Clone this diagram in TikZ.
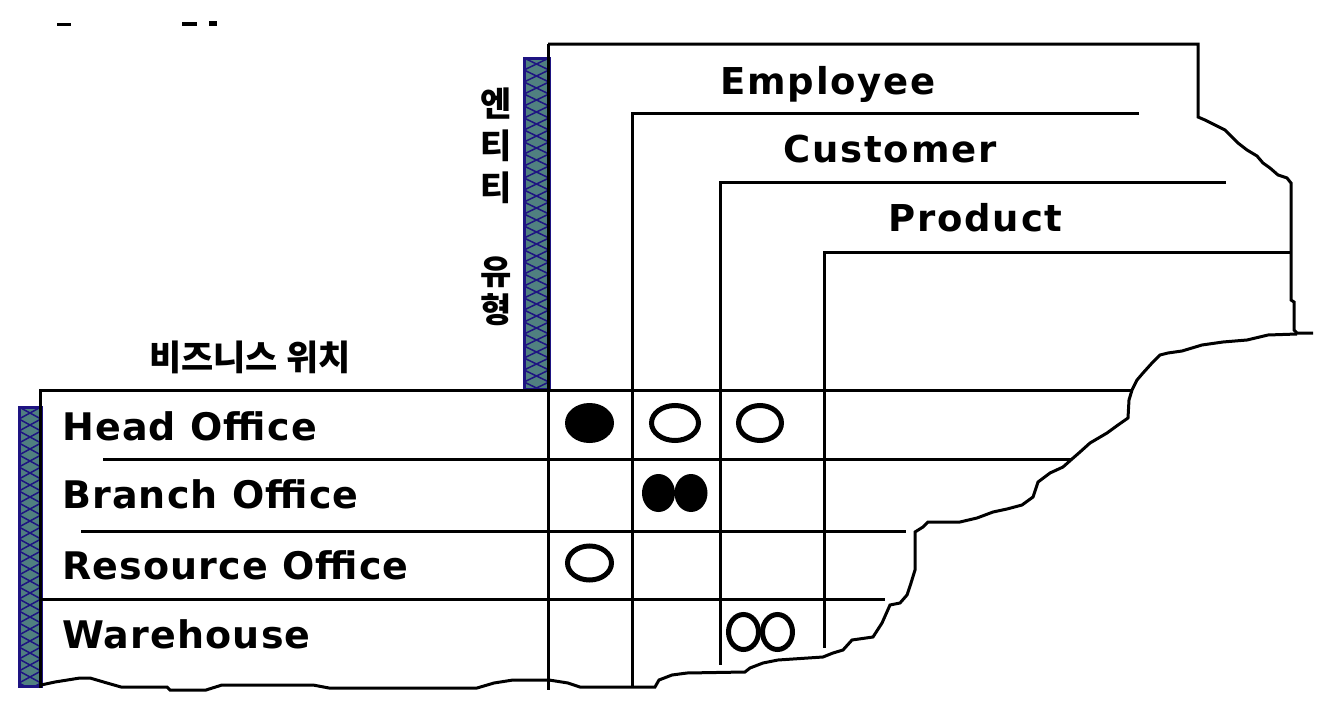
\documentclass[tikz,border=0pt]{standalone}
\usepackage{fontspec}
\newfontfamily\lblfont{DejaVu Sans}[LetterSpace=3]
\newfontfamily\hdfont{DejaVu Sans}[LetterSpace=5]
\newfontfamily\krfont{Noto Sans CJK KR}
\definecolor{hteal}{RGB}{80,128,128}
\definecolor{hnavy}{RGB}{30,20,130}
\tikzset{
  frameline/.style={line width=3pt, black, line join=miter},
  rowlabel/.style={anchor=base west, inner sep=0pt, font=\lblfont\bfseries\fontsize{38}{40}\selectfont},
  colhead/.style={anchor=base west, inner sep=0pt, font=\hdfont\bfseries\fontsize{37}{40}\selectfont},
  krchar/.style={anchor=center, inner sep=0pt, font=\krfont\bfseries\fontsize{34}{36}\selectfont},
  krlabel/.style={anchor=center, inner sep=0pt, font=\krfont\bfseries\fontsize{35}{37}\selectfont},
  solidmark/.style={fill=black, draw=none},
  openmark/.style={draw=black, line width=5pt, fill=none},
  hatchline/.style={hnavy, line width=1.5pt},
  hatchborder/.style={hnavy, line width=3pt}
}
\begin{document}
\begin{tikzpicture}[x=1pt,y=-1pt]
\useasboundingbox (0,0) rectangle (1334,704);
\fill[white] (0,0) rectangle (1334,704);

% cropped remnants at top left
\fill[black] (57,23) rectangle (71,26);
\fill[black] (182,22) rectangle (197,26);
\fill[black] (209,21) rectangle (217,26);

% vertical hatched bar (entity types)
\fill[hteal] (524,58) rectangle (549,389);
\begin{scope}
  \clip (524,58) rectangle (549,389);
  \foreach \yy in {58,70,...,390} {
    \draw[hatchline] (524,\yy) -- (549,\yy+12) (549,\yy) -- (524,\yy+12);
  }
\end{scope}
\draw[hatchborder] (524,58) rectangle (549,389);

% left hatched bar (business locations)
\fill[hteal] (19,407) rectangle (41,686);
\begin{scope}
  \clip (19,407) rectangle (41,686);
  \foreach \yy in {407,419,...,690} {
    \draw[hatchline] (19,\yy) -- (41,\yy+12) (41,\yy) -- (19,\yy+12);
  }
\end{scope}
\draw[hatchborder] (19,407) rectangle (41,686);

% outer frame of the entity-type block
\draw[frameline] (548,44) -- (1198,44) -- (1198,117)
  -- (1205,120) -- (1215,125) -- (1225,130) -- (1232,137) -- (1238,143)
  -- (1247,150) -- (1257,156) -- (1263,163) -- (1270,168) -- (1278,175)
  -- (1287,178) -- (1291,183) -- (1291,300) -- (1294,302) -- (1294,330)
  -- (1297,333) -- (1313,333);
\draw[frameline] (548,44) -- (548,690);

% torn edge
\draw[frameline] (1297,334) -- (1268,335) -- (1247,340) -- (1223,342)
  -- (1202,345) -- (1182,351) -- (1168,353) -- (1160,355) -- (1152,363)
  -- (1143,373) -- (1137,380) -- (1132,390) -- (1129,400) -- (1128,418)
  -- (1118,425) -- (1107,433) -- (1090,443) -- (1080,452) -- (1072,459)
  -- (1063,467) -- (1050,473) -- (1038,482) -- (1033,497) -- (1022,505)
  -- (1007,509) -- (993,512) -- (977,518) -- (960,522) -- (928,522)
  -- (923,527) -- (915,532) -- (915,570) -- (911,583) -- (907,595)
  -- (900,603) -- (890,605) -- (882,623) -- (873,637) -- (852,640)
  -- (843,650) -- (833,653) -- (823,657) -- (778,660) -- (763,663)
  -- (750,668) -- (745,672) -- (687,673) -- (672,675) -- (659,680)
  -- (655,687) -- (634,687) -- (580,687) -- (568,683) -- (549,680)
  -- (513,680) -- (494,683) -- (477,688) -- (329,688) -- (313,685)
  -- (222,685) -- (206,690) -- (170,690) -- (167,687) -- (121,687)
  -- (107,683) -- (90,678) -- (80,678) -- (55,682) -- (41,685);

% location block frame and row separators
\draw[frameline] (40,688) -- (40,390) -- (1132,390);
\draw[frameline] (103,459) -- (1072,459);
\draw[frameline] (81,531) -- (906,531);
\draw[frameline] (40,599) -- (885,599);

% entity-type bracket lines
\draw[frameline] (1139,113) -- (632,113) -- (632,687);
\draw[frameline] (1226,182) -- (720,182) -- (720,665);
\draw[frameline] (1290,252) -- (824,252) -- (824,648);

% column headings
\node[colhead] (emp) at (720,94) {Employee};
\node[colhead] (cus) at (783,162) {Customer};
\node[colhead] (prd) at (888,231) {Product};

% vertical Korean label
\node[krchar] (k1) at (496,104) {엔};
\node[krchar] (k2) at (496,146) {티};
\node[krchar] (k3) at (496,188) {티};
\node[krchar] (k4) at (496,272) {유};
\node[krchar] (k5) at (496,310) {형};

% horizontal Korean label
\node[krlabel] (loc) at (250,357) {비즈니스 위치};

% row labels
\node[rowlabel] (ho) at (62,440) {Head Office};
\node[rowlabel] (bo) at (62,508) {Branch Office};
\node[rowlabel] (ro) at (62,579) {Resource Office};
\node[rowlabel] (wh) at (62,648) {Warehouse};

% matrix marks
\fill[solidmark] (589.5,423) ellipse [x radius=24.5, y radius=20];
\draw[openmark] (675,423) ellipse [x radius=23.5, y radius=17.5];
\draw[openmark] (760,423) ellipse [x radius=21.5, y radius=17.5];
\fill[solidmark] (658.5,493) ellipse [x radius=16.5, y radius=19];
\fill[solidmark] (691,493) ellipse [x radius=16.5, y radius=19];
\draw[openmark] (589.5,563) ellipse [x radius=22, y radius=17];
\draw[openmark] (743.5,632) ellipse [x radius=15, y radius=17.5];
\draw[openmark] (777.5,632) ellipse [x radius=15, y radius=17.5];
\end{tikzpicture}
\end{document}
